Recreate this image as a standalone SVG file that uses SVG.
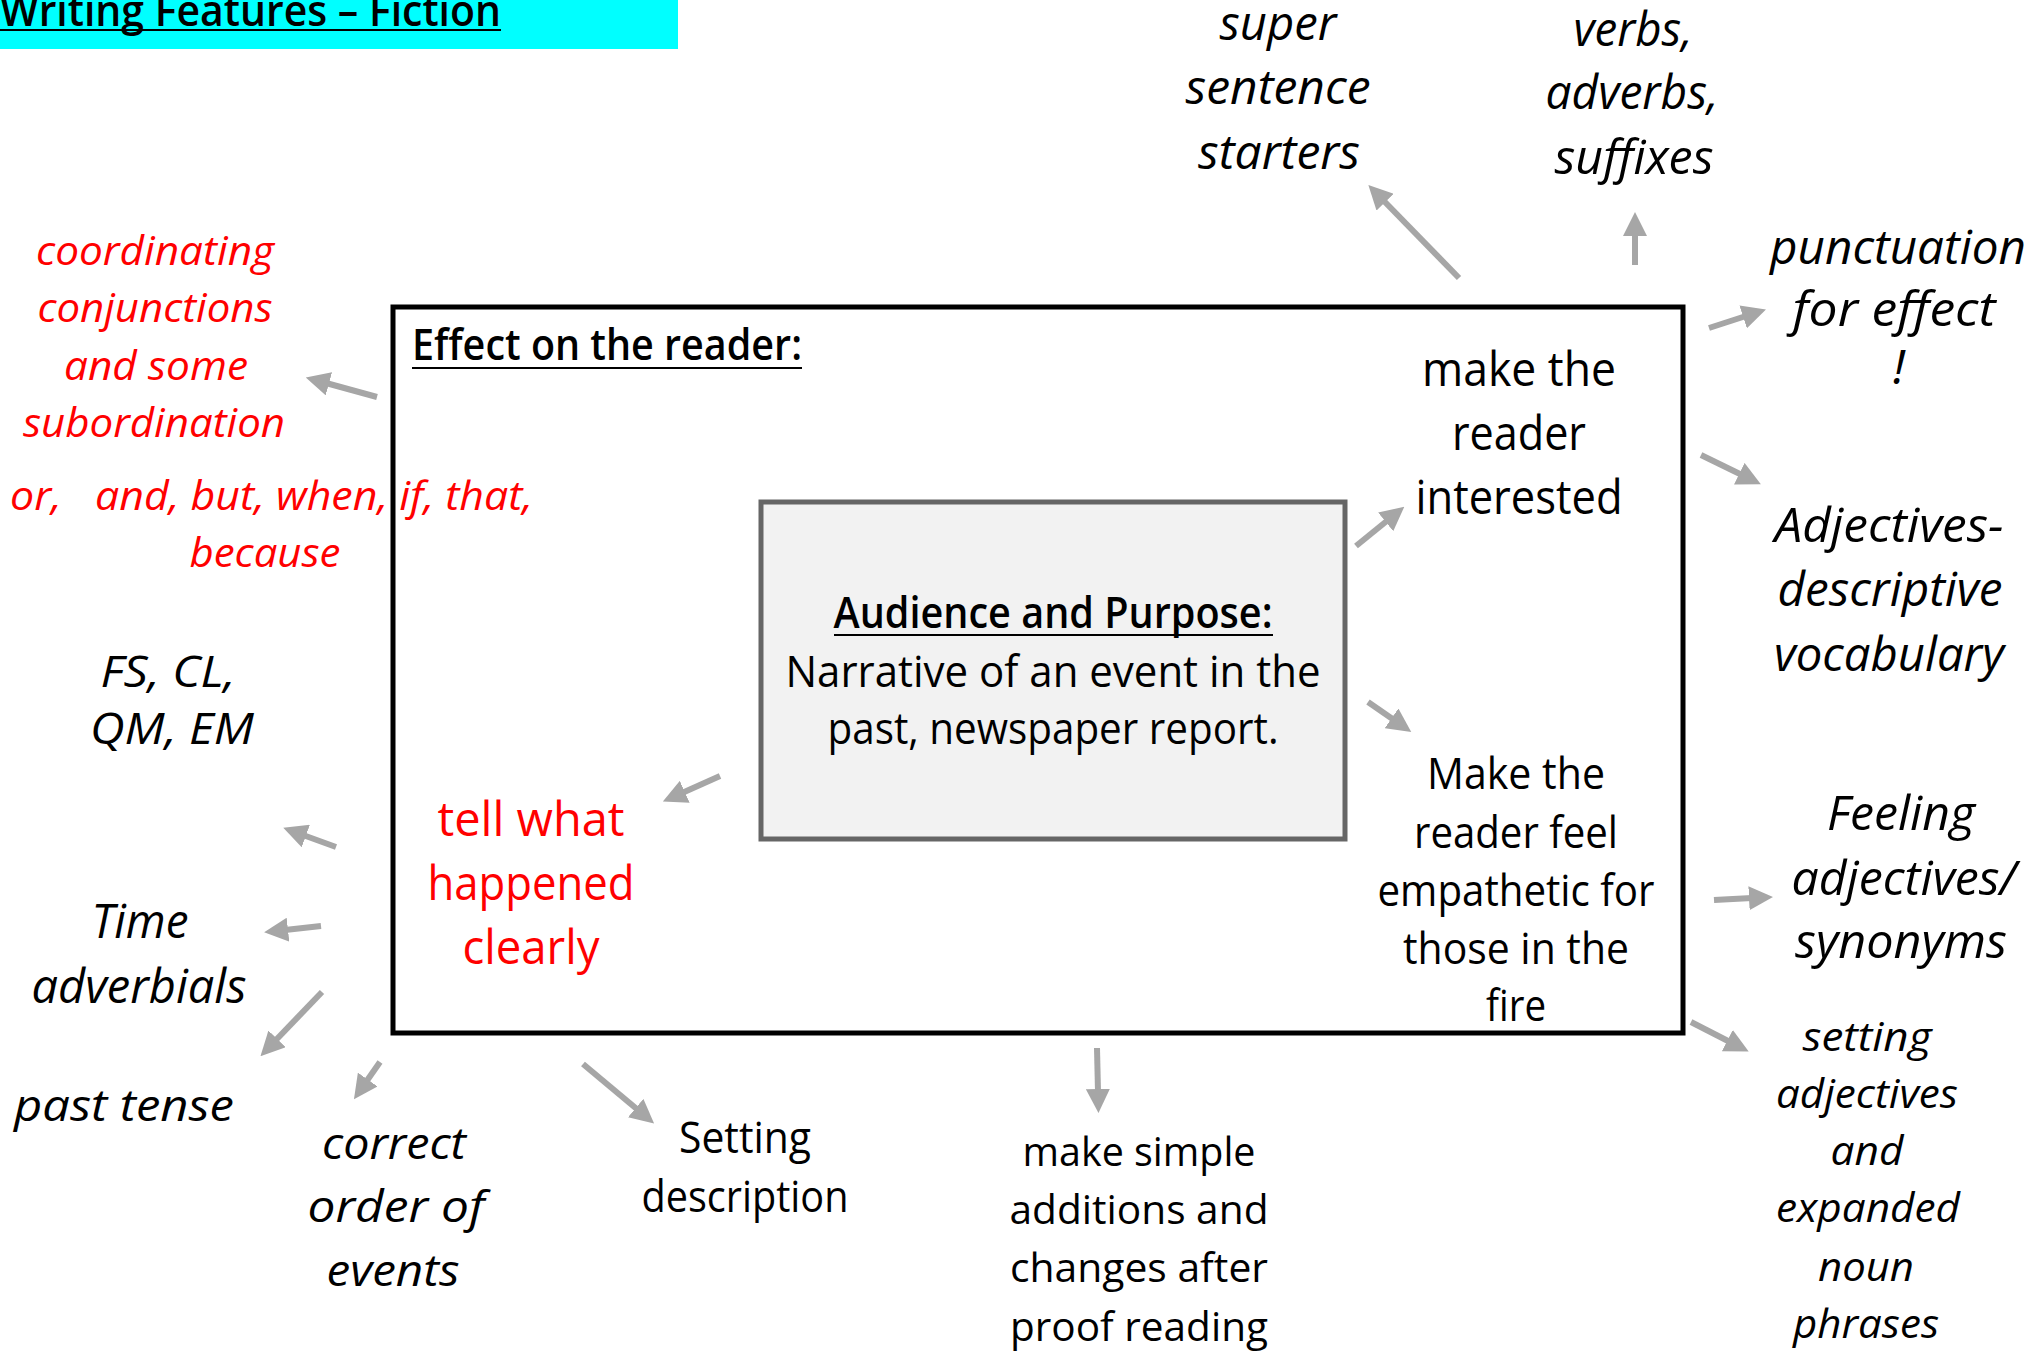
<svg xmlns="http://www.w3.org/2000/svg" width="2039" height="1355" viewBox="0 0 2039 1355">
<style>
text{font-family:"Open Sans","Noto Sans","DejaVu Sans",sans-serif;fill:#000;text-anchor:middle}
.i{font-style:italic}
.r{fill:#ff0000}
.b{font-weight:600}
.s40{font-size:40px}.s44{font-size:44px}.s48{font-size:48px}
.conn line{stroke:#a6a6a6;stroke-width:6;marker-end:url(#ah)}
.ul{stroke:#000;stroke-width:2}
</style>
<defs>
<marker id="ah" viewBox="0 0 4 4" markerWidth="4" markerHeight="4" refX="0.5" refY="2" orient="auto" markerUnits="strokeWidth">
<path d="M0,0 L4,2 L0,4 z" fill="#a6a6a6"/>
</marker>
</defs>
<rect width="2039" height="1355" fill="#fff"/>

<g id="title">
<rect x="0" y="0" width="678" height="49" fill="#00ffff"/>
<text x="0" y="26" class="s44 b" style="text-anchor:start" textLength="501" lengthAdjust="spacingAndGlyphs">Writing Features – Fiction</text>
<line class="ul" x1="0" y1="30" x2="501" y2="30"/>
</g>

<g id="effect-box">
<rect x="393" y="307" width="1290" height="726" fill="none" stroke="#000" stroke-width="5"/>
<text x="412" y="360" class="s44 b" style="text-anchor:start" textLength="390" lengthAdjust="spacingAndGlyphs">Effect on the reader:</text>
<line class="ul" x1="412" y1="368" x2="802" y2="368"/>
</g>

<g id="audience">
<rect x="761" y="502" width="584" height="337" fill="#f2f2f2" stroke="#666" stroke-width="5"/>
<text x="1053" y="628" class="s44 b" textLength="439" lengthAdjust="spacingAndGlyphs">Audience and Purpose:</text>
<line class="ul" x1="834" y1="635" x2="1273" y2="635"/>
<text x="1053" y="687" class="s44" textLength="535" lengthAdjust="spacingAndGlyphs">Narrative of an event in the</text>
<text x="1053" y="744" class="s44" textLength="451" lengthAdjust="spacingAndGlyphs">past, newspaper report.</text>
</g>

<g id="interested">
<text x="1519" y="386" class="s48" textLength="194" lengthAdjust="spacingAndGlyphs">make the</text>
<text x="1519" y="450" class="s48" textLength="134" lengthAdjust="spacingAndGlyphs">reader</text>
<text x="1519" y="514" class="s48" textLength="207" lengthAdjust="spacingAndGlyphs">interested</text>
</g>

<g id="empathetic">
<text x="1516" y="789" class="s44" textLength="178" lengthAdjust="spacingAndGlyphs">Make the</text>
<text x="1516" y="848" class="s44" textLength="204" lengthAdjust="spacingAndGlyphs">reader feel</text>
<text x="1516" y="906" class="s44" textLength="277" lengthAdjust="spacingAndGlyphs">empathetic for</text>
<text x="1516" y="964" class="s44" textLength="226" lengthAdjust="spacingAndGlyphs">those in the</text>
<text x="1516" y="1021" class="s44" textLength="60" lengthAdjust="spacingAndGlyphs">fire</text>
</g>

<g id="tell-what">
<text x="531" y="836" class="s48 r" textLength="187" lengthAdjust="spacingAndGlyphs">tell what</text>
<text x="531" y="900" class="s48 r" textLength="207" lengthAdjust="spacingAndGlyphs">happened</text>
<text x="531" y="964" class="s48 r" textLength="137" lengthAdjust="spacingAndGlyphs">clearly</text>
</g>

<g id="conjunctions">
<text x="155" y="265" class="s40 i r" textLength="238" lengthAdjust="spacingAndGlyphs">coordinating</text>
<text x="155" y="322" class="s40 i r" textLength="235" lengthAdjust="spacingAndGlyphs">conjunctions</text>
<text x="156" y="380" class="s40 i r" textLength="184" lengthAdjust="spacingAndGlyphs">and some</text>
<text x="154" y="437" class="s40 i r" textLength="262" lengthAdjust="spacingAndGlyphs">subordination</text>
</g>

<g id="examples">
<text x="10" y="510" class="s40 i r" style="text-anchor:start;white-space:pre" textLength="523" lengthAdjust="spacingAndGlyphs">or,   and, but, when, if, that,</text>
<text x="265" y="567" class="s40 i r" textLength="151" lengthAdjust="spacingAndGlyphs">because</text>
</g>

<g id="fs-cl">
<text x="168" y="687" class="s44 i" textLength="135" lengthAdjust="spacingAndGlyphs">FS, CL,</text>
<text x="172" y="744" class="s44 i" textLength="164" lengthAdjust="spacingAndGlyphs">QM, EM</text>
</g>

<g id="time-adverbials">
<text x="140" y="938" class="s48 i" textLength="97" lengthAdjust="spacingAndGlyphs">Time</text>
<text x="139" y="1003" class="s48 i" textLength="215" lengthAdjust="spacingAndGlyphs">adverbials</text>
</g>

<g id="past-tense">
<text x="124" y="1121" class="s44 i" textLength="220" lengthAdjust="spacingAndGlyphs">past tense</text>
</g>

<g id="correct-order">
<text x="394" y="1159" class="s44 i" textLength="144" lengthAdjust="spacingAndGlyphs">correct</text>
<text x="396" y="1222" class="s44 i" textLength="177" lengthAdjust="spacingAndGlyphs">order of</text>
<text x="393" y="1286" class="s44 i" textLength="133" lengthAdjust="spacingAndGlyphs">events</text>
</g>

<g id="setting-description">
<text x="745" y="1153" class="s44" textLength="132" lengthAdjust="spacingAndGlyphs">Setting</text>
<text x="745" y="1212" class="s44" textLength="207" lengthAdjust="spacingAndGlyphs">description</text>
</g>

<g id="proof-reading">
<text x="1139" y="1166" class="s40" textLength="233" lengthAdjust="spacingAndGlyphs">make simple</text>
<text x="1139" y="1224" class="s40" textLength="259" lengthAdjust="spacingAndGlyphs">additions and</text>
<text x="1139" y="1282" class="s40" textLength="258" lengthAdjust="spacingAndGlyphs">changes after</text>
<text x="1139" y="1341" class="s40" textLength="258" lengthAdjust="spacingAndGlyphs">proof reading</text>
</g>

<g id="setting-adjectives">
<text x="1867" y="1051" class="s40 i" textLength="129" lengthAdjust="spacingAndGlyphs">setting</text>
<text x="1867" y="1108" class="s40 i" textLength="182" lengthAdjust="spacingAndGlyphs">adjectives</text>
<text x="1867" y="1165" class="s40 i" textLength="73" lengthAdjust="spacingAndGlyphs">and</text>
<text x="1868" y="1222" class="s40 i" textLength="184" lengthAdjust="spacingAndGlyphs">expanded</text>
<text x="1866" y="1281" class="s40 i" textLength="96" lengthAdjust="spacingAndGlyphs">noun</text>
<text x="1866" y="1338" class="s40 i" textLength="146" lengthAdjust="spacingAndGlyphs">phrases</text>
</g>

<g id="feeling">
<text x="1901" y="830" class="s48 i" textLength="148" lengthAdjust="spacingAndGlyphs">Feeling</text>
<text x="1904" y="895" class="s48 i" textLength="225" lengthAdjust="spacingAndGlyphs">adjectives/</text>
<text x="1901" y="958" class="s48 i" textLength="212" lengthAdjust="spacingAndGlyphs">synonyms</text>
</g>

<g id="adjectives-descriptive">
<text x="1889" y="542" class="s48 i" textLength="229" lengthAdjust="spacingAndGlyphs">Adjectives-</text>
<text x="1890" y="606" class="s48 i" textLength="225" lengthAdjust="spacingAndGlyphs">descriptive</text>
<text x="1889" y="671" class="s48 i" textLength="230" lengthAdjust="spacingAndGlyphs">vocabulary</text>
</g>

<g id="punctuation">
<text x="1898" y="264" class="s48 i" textLength="256" lengthAdjust="spacingAndGlyphs">punctuation</text>
<text x="1894" y="326" class="s48 i" textLength="203" lengthAdjust="spacingAndGlyphs">for effect</text>
<text x="1899" y="384" class="s48 i">!</text>
</g>

<g id="sentence-starters">
<text x="1278" y="40" class="s48 i" textLength="117" lengthAdjust="spacingAndGlyphs">super</text>
<text x="1278" y="104" class="s48 i" textLength="185" lengthAdjust="spacingAndGlyphs">sentence</text>
<text x="1279" y="169" class="s48 i" textLength="162" lengthAdjust="spacingAndGlyphs">starters</text>
</g>

<g id="verbs">
<text x="1633" y="46" class="s48 i" textLength="119" lengthAdjust="spacingAndGlyphs">verbs,</text>
<text x="1632" y="109" class="s48 i" textLength="173" lengthAdjust="spacingAndGlyphs">adverbs,</text>
<text x="1634" y="174" class="s48 i" textLength="159" lengthAdjust="spacingAndGlyphs">suffixes</text>
</g>

<g id="connectors" class="conn">
<line x1="1459" y1="278" x2="1383" y2="200"/>
<line x1="1635" y1="265" x2="1635" y2="233"/>
<line x1="1709" y1="328" x2="1746" y2="316"/>
<line x1="1701" y1="455" x2="1742" y2="475"/>
<line x1="1356" y1="546" x2="1388" y2="520"/>
<line x1="1368" y1="702" x2="1394" y2="720"/>
<line x1="1714" y1="900" x2="1752" y2="898"/>
<line x1="1691" y1="1022" x2="1730" y2="1042"/>
<line x1="1097" y1="1048" x2="1098" y2="1092"/>
<line x1="583" y1="1064" x2="638" y2="1110"/>
<line x1="380" y1="1062" x2="366" y2="1082"/>
<line x1="322" y1="992" x2="275" y2="1041"/>
<line x1="321" y1="926" x2="285" y2="930"/>
<line x1="336" y1="847" x2="303" y2="835"/>
<line x1="720" y1="776" x2="682" y2="793"/>
<line x1="377" y1="397" x2="326" y2="383"/>
</g>
</svg>
